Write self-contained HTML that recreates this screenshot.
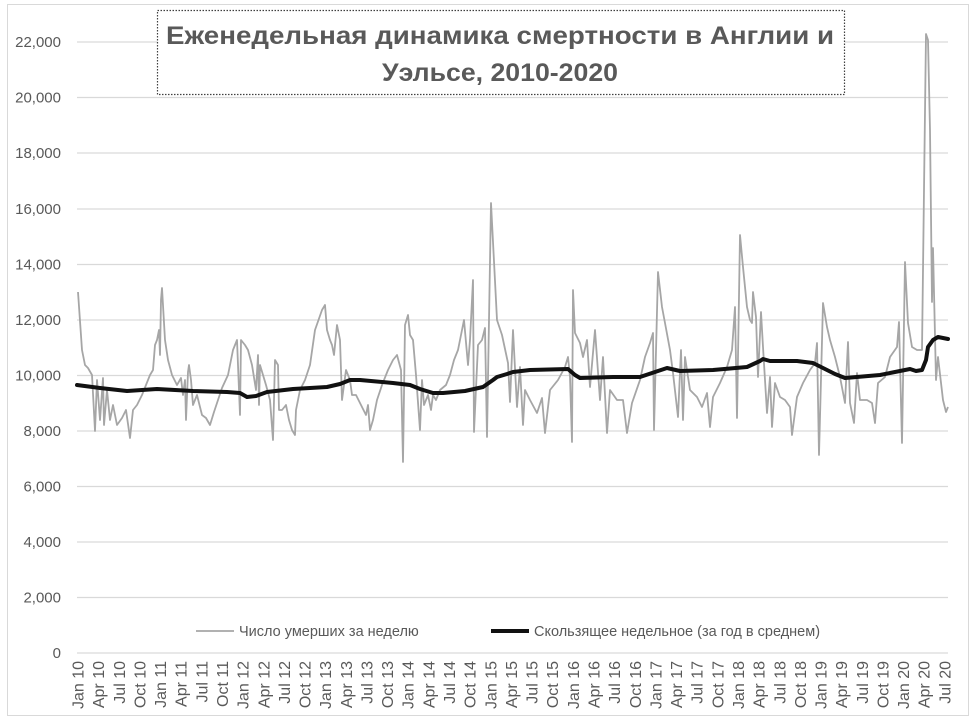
<!DOCTYPE html>
<html><head><meta charset="utf-8"><style>
html,body{margin:0;padding:0;background:#fff;}
svg{display:block;font-family:"Liberation Sans",sans-serif;}
</style></head><body>
<svg width="975" height="721" viewBox="0 0 975 721" xmlns="http://www.w3.org/2000/svg">
<rect x="0" y="0" width="975" height="721" fill="#fff"/>
<rect x="7.5" y="4.5" width="961" height="711" fill="none" stroke="#d9d9d9" stroke-width="1"/>
<g stroke="#d9d9d9" stroke-width="1.3">
<line x1="77" x2="948" y1="42" y2="42"/>
<line x1="77" x2="948" y1="97.5" y2="97.5"/>
<line x1="77" x2="948" y1="153" y2="153"/>
<line x1="77" x2="948" y1="209" y2="209"/>
<line x1="77" x2="948" y1="264.5" y2="264.5"/>
<line x1="77" x2="948" y1="320" y2="320"/>
<line x1="77" x2="948" y1="375.5" y2="375.5"/>
<line x1="77" x2="948" y1="431" y2="431"/>
<line x1="77" x2="948" y1="486.5" y2="486.5"/>
<line x1="77" x2="948" y1="542" y2="542"/>
<line x1="77" x2="948" y1="597.5" y2="597.5"/>
<line x1="77" x2="948" y1="653" y2="653"/>
</g>
<g fill="#595959" font-size="15" text-anchor="end">
<text x="61" y="47">22,000</text>
<text x="61" y="102.5">20,000</text>
<text x="61" y="158">18,000</text>
<text x="61" y="214">16,000</text>
<text x="61" y="269.5">14,000</text>
<text x="61" y="325">12,000</text>
<text x="61" y="380.5">10,000</text>
<text x="61" y="436">8,000</text>
<text x="61" y="491.5">6,000</text>
<text x="61" y="547">4,000</text>
<text x="61" y="602.5">2,000</text>
<text x="61" y="658">0</text>
</g>
<g fill="#595959" font-size="16" text-anchor="end">
<text transform="translate(83.5,661) rotate(-90)">Jan 10</text>
<text transform="translate(104.1,661) rotate(-90)">Apr 10</text>
<text transform="translate(124.8,661) rotate(-90)">Jul 10</text>
<text transform="translate(145.4,661) rotate(-90)">Oct 10</text>
<text transform="translate(166.1,661) rotate(-90)">Jan 11</text>
<text transform="translate(186.7,661) rotate(-90)">Apr 11</text>
<text transform="translate(207.3,661) rotate(-90)">Jul 11</text>
<text transform="translate(228,661) rotate(-90)">Oct 11</text>
<text transform="translate(248.6,661) rotate(-90)">Jan 12</text>
<text transform="translate(269.3,661) rotate(-90)">Apr 12</text>
<text transform="translate(289.9,661) rotate(-90)">Jul 12</text>
<text transform="translate(310.5,661) rotate(-90)">Oct 12</text>
<text transform="translate(331.2,661) rotate(-90)">Jan 13</text>
<text transform="translate(351.8,661) rotate(-90)">Apr 13</text>
<text transform="translate(372.5,661) rotate(-90)">Jul 13</text>
<text transform="translate(393.1,661) rotate(-90)">Oct 13</text>
<text transform="translate(413.7,661) rotate(-90)">Jan 14</text>
<text transform="translate(434.4,661) rotate(-90)">Apr 14</text>
<text transform="translate(455,661) rotate(-90)">Jul 14</text>
<text transform="translate(475.7,661) rotate(-90)">Oct 14</text>
<text transform="translate(496.3,661) rotate(-90)">Jan 15</text>
<text transform="translate(516.9,661) rotate(-90)">Apr 15</text>
<text transform="translate(537.6,661) rotate(-90)">Jul 15</text>
<text transform="translate(558.2,661) rotate(-90)">Oct 15</text>
<text transform="translate(578.9,661) rotate(-90)">Jan 16</text>
<text transform="translate(599.5,661) rotate(-90)">Apr 16</text>
<text transform="translate(620.1,661) rotate(-90)">Jul 16</text>
<text transform="translate(640.8,661) rotate(-90)">Oct 16</text>
<text transform="translate(661.4,661) rotate(-90)">Jan 17</text>
<text transform="translate(682.1,661) rotate(-90)">Apr 17</text>
<text transform="translate(702.7,661) rotate(-90)">Jul 17</text>
<text transform="translate(723.3,661) rotate(-90)">Oct 17</text>
<text transform="translate(744,661) rotate(-90)">Jan 18</text>
<text transform="translate(764.6,661) rotate(-90)">Apr 18</text>
<text transform="translate(785.3,661) rotate(-90)">Jul 18</text>
<text transform="translate(805.9,661) rotate(-90)">Oct 18</text>
<text transform="translate(826.5,661) rotate(-90)">Jan 19</text>
<text transform="translate(847.2,661) rotate(-90)">Apr 19</text>
<text transform="translate(867.8,661) rotate(-90)">Jul 19</text>
<text transform="translate(888.5,661) rotate(-90)">Oct 19</text>
<text transform="translate(909.1,661) rotate(-90)">Jan 20</text>
<text transform="translate(929.7,661) rotate(-90)">Apr 20</text>
<text transform="translate(950.4,661) rotate(-90)">Jul 20</text>
</g>
<rect x="157.5" y="10.5" width="687" height="84" fill="#fff" stroke="#404040" stroke-width="1.2" stroke-dasharray="1.5,1.5"/>
<g fill="#595959" font-weight="bold" font-size="25" text-anchor="middle">
<text x="500" y="44" textLength="668" lengthAdjust="spacingAndGlyphs">Еженедельная динамика смертности в Англии и</text>
<text x="500" y="81" textLength="236" lengthAdjust="spacingAndGlyphs">Уэльсе, 2010-2020</text>
</g>
<polyline fill="none" stroke="#a6a6a6" stroke-width="1.8" stroke-linejoin="round" points="
78,292 82,350 85,365 88,368 92,375 95,431 97,380 100,420 103,378 104,425 107,390 110,420 113,405 117,425 122,418 126,410 130,438 133,410 137,405 142,395 146,385 150,375 153,370 155,345 157,340 159,330 160,355 161,300 162,288 165,340 168,360 172,375 177,385 181,378 183,395 185,380 186,420 188,372 189,365 191,380 193,405 197,395 202,415 206,418 210,425 214,412 218,400 222,388 228,375 233,350 237,340 240,415 241,340 245,345 248,350 252,365 256,390 258,355 259,405 260,365 263,375 266,385 270,400 273,440 275,360 278,365 279,410 282,410 286,405 289,420 292,430 295,435 296,410 300,390 305,380 310,365 315,330 322,310 325,305 327,330 330,340 332,345 334,355 337,325 340,340 342,400 346,370 350,380 352,395 356,395 361,405 366,415 368,405 370,430 373,420 377,400 382,385 388,370 393,360 397,355 401,370 403,462 405,325 408,315 410,335 413,340 416,375 420,430 422,380 424,405 428,395 431,410 433,395 436,400 440,390 446,385 450,375 454,360 456,355 458,350 462,330 464,320 468,365 470,340 473,280 474,432 478,345 482,340 485,328 487,437 491,203 497,320 502,335 508,363 510,402 513,330 517,407 520,367 523,425 525,390 530,400 537,413 542,398 545,433 550,390 558,380 565,367 568,357 570,377 572,442 573,290 575,333 580,343 583,357 587,340 590,387 595,330 600,400 603,357 607,433 610,390 617,400 623,400 627,433 632,403 640,380 645,357 650,343 653,333 654,430 658,272 662,307 665,323 670,350 673,373 678,417 681,350 683,420 685,357 690,390 697,397 702,407 707,393 710,427 713,397 720,383 727,367 732,350 735,307 737,418 740,235 743,267 747,307 750,320 752,323 753,292 756,317 758,377 761,312 763,347 767,413 770,377 772,427 775,383 780,397 785,400 790,407 792,435 797,397 803,383 810,370 815,363 817,343 819,455 823,303 827,327 830,340 835,357 840,377 845,403 848,342 850,403 854,423 857,373 860,400 867,400 872,403 875,423 878,383 885,377 890,357 897,347 899,322 902,443 905,262 908,323 912,347 917,350 922,350 924,190 926,34 928,40 930,130 932,302 933,248 936,380 938,357 943,400 946,412 948,407"/>
<polyline fill="none" stroke="#111" stroke-width="4" stroke-linejoin="round" stroke-linecap="round" points="
77,385 100,388 127,391 157,389 193,391 227,392 240,393 247,397 256,396 267,392 293,389 327,387 340,384 350,380 360,380 393,383 410,385 420,389 433,393 443,393 465,391 483,387 493,380 497,377 507,374 513,372 530,370 568,369 575,375 580,378 613,377 640,377 655,372 667,368 680,371 713,370 747,367 760,361 763,359 770,361 797,361 813,363 827,370 835,374 845,378 880,375 910,369 916,371 922,370 926,360 928,347 933,340 938,337 948,339"/>
<line x1="196" x2="234" y1="631" y2="631" stroke="#a6a6a6" stroke-width="1.8"/>
<text x="239" y="636" fill="#595959" font-size="14.5">Число умерших за неделю</text>
<line x1="491" x2="529" y1="631" y2="631" stroke="#111" stroke-width="4"/>
<text x="534" y="636" fill="#595959" font-size="14.5">Скользящее недельное (за год в среднем)</text>
</svg>
</body></html>
